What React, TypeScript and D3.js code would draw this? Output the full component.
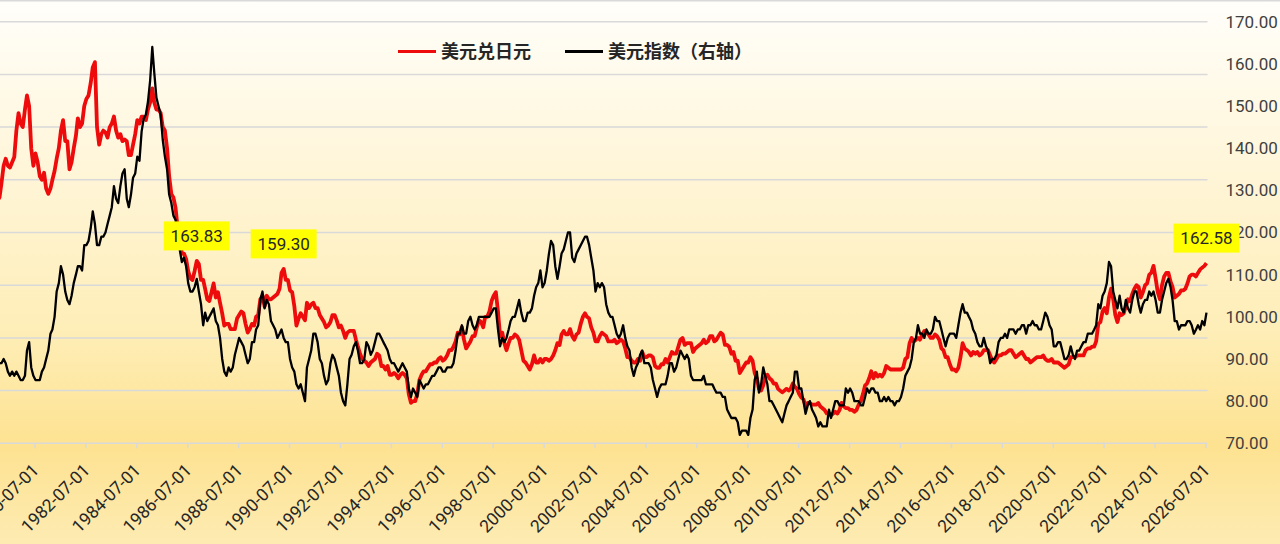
import React, { useEffect, useRef } from 'react';
import * as d3 from 'd3';

// monthly values starting Jan 1979
const START_YEAR = 1979;

// 美元兑日元 (left axis, hidden)
const usdJpy: number[] = [
    198, 200, 208, 218, 222, 218, 217, 220, 223, 238, 248, 242, // 1979
    240, 250, 258, 252, 228, 218, 225, 220, 212, 210, 214, 205, // 1980
    202, 205, 210, 215, 222, 228, 238, 244, 232, 232, 216, 220, // 1981
    228, 235, 245, 240, 242, 252, 256, 258, 265, 274, 277, 240, // 1982
    230, 236, 238, 237, 234, 240, 242, 246, 238, 234, 236, 232, // 1983
    233, 232, 224, 224, 230, 236, 244, 242, 246, 246, 244, 250, // 1984
    254, 262, 254, 250, 250, 248, 240, 238, 228, 212, 202, 200, // 1985
    194, 182, 178, 168, 168, 165, 158, 154, 153, 158, 163.83, 162, // 1986
    153, 153, 148, 142, 141, 146, 151, 143, 146, 140, 134, 127, // 1987
    128, 128, 125, 125, 125, 131, 133, 135, 134, 128, 123, 125, // 1988
    128, 127, 132, 133, 142, 144, 138, 144, 142, 142, 143, 144, // 1989
    145, 148, 157, 159.3, 153, 153, 147, 146, 138, 127, 131, 134, // 1990
    132, 130, 140, 137, 139, 140, 137, 137, 133, 131, 129, 126, // 1991
    127, 129, 133, 133, 130, 126, 127, 124, 120, 123, 124, 124, // 1992
    124, 119, 115, 111, 108, 107, 106, 104, 106, 107, 108, 111, // 1993
    110, 104, 104, 102, 104, 99, 99, 100, 99, 97, 99, 100, // 1994
    99, 97, 88, 83, 84, 84, 88, 96, 99, 101, 101, 103, // 1995
    105, 105, 106, 106, 108, 109, 107, 108, 110, 113, 113, 115, // 1996
    118, 123, 122, 126, 119, 114, 116, 118, 121, 121, 126, 130, // 1997
    129, 126, 132, 132, 135, 141, 144, 146, 135, 121, 123, 117, // 1998
    113, 117, 120, 120, 122, 121, 119, 113, 107, 106, 104, 102, // 1999
    105, 110, 106, 106, 108, 106, 108, 108, 107, 108, 110, 113, // 2000
    117, 116, 122, 124, 122, 122, 125, 121, 119, 122, 123, 128, // 2001
    132, 134, 132, 131, 126, 123, 118, 118, 121, 123, 122, 121, // 2002
    118, 118, 118, 119, 117, 118, 119, 118, 114, 109, 109, 107, // 2003
    106, 106, 108, 107, 112, 109, 109, 110, 110, 109, 104, 103, // 2004
    103, 105, 105, 108, 106, 109, 112, 111, 111, 115, 119, 120, // 2005
    116, 117, 117, 117, 112, 114, 115, 116, 117, 119, 117, 118, // 2006
    121, 121, 118, 119, 121, 123, 122, 116, 116, 115, 111, 112, // 2007
    107, 107, 100, 102, 104, 106, 106, 109, 107, 100, 97, 91, // 2008
    90, 93, 98, 99, 97, 96, 94, 94, 91, 90, 89, 90, // 2009
    91, 90, 91, 94, 92, 91, 88, 86, 85, 81, 83, 83, // 2010
    82, 82, 82, 83, 81, 80, 79, 77, 77, 76, 77, 78, // 2011
    77, 79, 83, 81, 80, 80, 79, 79, 78, 79, 82, 84, // 2012
    88, 93, 94, 97, 101, 97, 100, 98, 99, 98, 100, 104, // 2013
    103, 102, 102, 102, 102, 102, 102, 103, 108, 109, 117, 120, // 2014
    118, 119, 120, 119, 122, 124, 123, 122, 120, 120, 122, 121, // 2015
    119, 114, 113, 109, 109, 105, 102, 102, 101, 103, 109, 117, // 2016
    114, 113, 112, 110, 112, 111, 112, 110, 111, 113, 113, 113, // 2017
    110, 107, 106, 108, 110, 110, 111, 111, 112, 113, 113, 111, // 2018
    109, 110, 111, 112, 110, 108, 108, 106, 107, 108, 109, 109, // 2019
    109, 110, 108, 107, 107, 108, 106, 106, 106, 105, 104, 103, // 2020
    104, 105, 109, 109, 109, 110, 110, 110, 110, 113, 114, 114, // 2021
    115, 115, 118, 128, 129, 135, 137, 134, 143, 148, 142, 133, // 2022
    129, 134, 133, 134, 138, 142, 141, 145, 148, 150, 149, 143, // 2023
    146, 150, 151, 156, 157, 161, 154, 146, 142, 150, 155, 157, // 2024
    157, 152, 149, 143, 144, 145, 147, 147, 148, 151, 155, 156, // 2025
    156, 155, 157, 159, 160, 161, 162.58, // 2026
];

// 美元指数 (right axis)
const dxy: number[] = [
    88, 89, 89, 90, 89, 87, 86, 87, 86, 87, 86, 85, // 1979
    85, 86, 92, 94, 88, 86, 85, 85, 85, 87, 88, 90, // 1980
    92, 96, 97, 100, 106, 108, 112, 110, 106, 104, 103, 105, // 1981
    108, 110, 112, 112, 111, 117, 117, 118, 121, 125, 122, 117, // 1982
    117, 119, 119, 120, 122, 124, 126, 131, 128, 127, 131, 134, // 1983
    135, 128, 126, 129, 133, 134, 138, 137, 144, 147, 148, 151, // 1984
    156, 164, 158, 152, 150, 148, 142, 138, 135, 129, 127, 124, // 1985
    123, 118, 116, 113, 114, 112, 108, 106, 106, 107, 109, 106, // 1986
    103, 98, 101, 99, 100, 101, 102, 99, 98, 95, 90, 87, // 1987
    86, 88, 87, 88, 91, 93, 95, 94, 93, 91, 89, 90, // 1988
    94, 94, 97, 98, 104, 106, 102, 104, 103, 99, 98, 97, // 1989
    95, 96, 97, 95, 94, 94, 90, 88, 87, 84, 83, 84, // 1990
    82, 80, 88, 90, 92, 96, 96, 94, 90, 89, 86, 84, // 1991
    85, 89, 91, 90, 88, 86, 82, 80, 79, 84, 90, 91, // 1992
    93, 94, 92, 89, 89, 90, 94, 93, 91, 92, 94, 96, // 1993
    96, 95, 94, 93, 92, 90, 89, 89, 88, 87, 88, 89, // 1994
    88, 87, 83, 81, 83, 82, 81, 85, 84, 83, 84, 84, // 1995
    85, 86, 86, 87, 88, 88, 87, 87, 88, 88, 88, 89, // 1996
    92, 96, 96, 98, 96, 96, 99, 100, 98, 97, 98, 100, // 1997
    100, 100, 100, 100, 100, 101, 102, 102, 97, 93, 95, 94, // 1998
    95, 97, 99, 100, 100, 102, 104, 101, 99, 99, 101, 101, // 1999
    102, 105, 107, 108, 111, 107, 108, 111, 115, 118, 117, 112, // 2000
    109, 112, 115, 116, 118, 120, 120, 114, 113, 115, 116, 117, // 2001
    118, 119, 119, 117, 114, 111, 106, 108, 107, 108, 107, 103, // 2002
    101, 100, 100, 98, 96, 95, 96, 98, 95, 93, 92, 88, // 2003
    86, 88, 89, 91, 92, 89, 89, 89, 88, 85, 83, 81, // 2004
    83, 84, 84, 84, 86, 89, 89, 87, 88, 90, 92, 91, // 2005
    90, 91, 90, 86, 85, 85, 85, 85, 85, 86, 84, 84, // 2006
    84, 84, 83, 82, 82, 82, 81, 81, 78, 77, 76, 76, // 2007
    76, 75, 72, 73, 73, 73, 72, 76, 78, 85, 87, 82, // 2008
    84, 88, 86, 84, 80, 80, 79, 78, 77, 76, 75, 77, // 2009
    79, 80, 81, 82, 87, 87, 83, 83, 80, 77, 79, 80, // 2010
    78, 77, 76, 74, 75, 74, 74, 74, 78, 76, 78, 80, // 2011
    80, 79, 79, 79, 83, 82, 83, 82, 80, 80, 80, 79, // 2012
    79, 81, 83, 82, 83, 83, 82, 82, 80, 80, 81, 80, // 2013
    81, 80, 80, 79, 80, 80, 81, 83, 86, 87, 88, 90, // 2014
    94, 95, 98, 96, 96, 95, 97, 96, 96, 97, 100, 99, // 2015
    99, 97, 95, 93, 95, 96, 96, 96, 95, 98, 101, 103, // 2016
    101, 101, 100, 99, 97, 96, 94, 93, 93, 95, 93, 92, // 2017
    89, 90, 90, 91, 94, 95, 95, 96, 95, 97, 97, 97, // 2018
    96, 97, 97, 98, 98, 96, 98, 98, 99, 98, 98, 97, // 2019
    97, 99, 101, 100, 98, 97, 93, 93, 94, 94, 92, 90, // 2020
    90, 91, 93, 91, 90, 92, 92, 93, 94, 94, 96, 96, // 2021
    96, 97, 98, 103, 102, 105, 106, 108, 113, 112, 106, 104, // 2022
    102, 105, 102, 101, 104, 102, 101, 104, 106, 106, 103, 101, // 2023
    103, 104, 104, 106, 105, 106, 104, 101, 101, 104, 106, 108, // 2024
    109, 107, 104, 99, 99, 97, 98, 98, 98, 99, 99, 98, // 2025
    96, 97, 98, 97, 99, 98, 101, // 2026
];

const seriesNames = ['美元兑日元', '美元指数（右轴）'];
const seriesColors = ['#ee0b0b', '#000000'];

const leftTicks = [60, 90, 120, 150, 180, 210, 240, 270, 300];
const rightTicks = [70, 80, 90, 100, 110, 120, 130, 140, 150, 160, 170];
const xTickLabels = [
    '1978-07-01', '1980-07-01', '1982-07-01', '1984-07-01', '1986-07-01', '1988-07-01',
    '1990-07-01', '1992-07-01', '1994-07-01', '1996-07-01', '1998-07-01', '2000-07-01',
    '2002-07-01', '2004-07-01', '2006-07-01', '2008-07-01', '2010-07-01', '2012-07-01',
    '2014-07-01', '2016-07-01', '2018-07-01', '2020-07-01', '2022-07-01', '2024-07-01',
    '2026-07-01',
];
// months of usdJpy that carry a yellow value label
const calloutMonths = ['1986-11', '1990-04', '2026-07'];

const monthDate = (i: number) => new Date(START_YEAR + Math.floor(i / 12), i % 12, 15);
const parseDay = d3.timeParse('%Y-%m-%d');

const App: React.FC = () => {
    const svgRef = useRef<SVGSVGElement>(null);
    const width = 1280;
    const height = 544;

    useEffect(() => {
        const svg = d3.select(svgRef.current);
        svg.selectAll('*').remove();

        const plotRight = 1207.5;
        const plotBottom = 443.3;
        const plotTop = 21.7;

        const x = d3.scaleTime()
            .domain([new Date(1980, 6, 1), new Date(2026, 6, 1)])
            .range([34.5, 1205.5]);
        const yL = d3.scaleLinear().domain([60, 300]).range([plotBottom, plotTop]);
        const yR = d3.scaleLinear().domain([70, 170]).range([plotBottom, plotTop]);
        const plotLeft = x(new Date(1978, 6, 1));

        // background
        const defs = svg.append('defs');
        const grad = defs.append('linearGradient')
            .attr('id', 'bg')
            .attr('x1', 0).attr('y1', 0).attr('x2', 0).attr('y2', 1);
        [['0%', '#fffefa'], ['30%', '#fff6da'], ['60%', '#feeeb8'], ['82%', '#fde291'], ['100%', '#fdebb2']]
            .forEach(([o, c]) => grad.append('stop').attr('offset', o).attr('stop-color', c));
        svg.append('rect').attr('width', width).attr('height', height).attr('fill', 'url(#bg)');
        svg.append('line')
            .attr('x1', 0).attr('x2', width).attr('y1', 0.75).attr('y2', 0.75)
            .attr('stroke', '#d9d9d9').attr('stroke-width', 1.5);

        // gridlines (left axis)
        svg.append('g')
            .selectAll('line')
            .data(leftTicks)
            .enter()
            .append('line')
            .attr('x1', plotLeft).attr('x2', plotRight)
            .attr('y1', d => yL(d)).attr('y2', d => yL(d))
            .attr('stroke', '#d9d9d9')
            .attr('stroke-width', 1.5);

        // X axis
        const xAxis = svg.append('g')
            .attr('transform', `translate(0,${plotBottom})`)
            .call(d3.axisBottom(x)
                .tickValues(xTickLabels.map(s => parseDay(s) as Date))
                .tickFormat(d3.timeFormat('%Y-%m-%d') as any)
                .tickSize(5)
                .tickSizeOuter(0));
        xAxis.select('.domain').remove();
        xAxis.selectAll('.tick line').attr('stroke', '#d9d9d9').attr('stroke-width', 1.5);
        xAxis.selectAll('.tick text')
            .attr('x', 0).attr('y', 0).attr('dy', 0)
            .attr('transform', 'translate(5,28) rotate(-45)')
            .style('text-anchor', 'end')
            .style('font-family', 'Roboto, sans-serif')
            .style('font-size', '17.5px')
            .style('fill', '#262626');

        // right Y axis
        const rAxis = svg.append('g')
            .attr('transform', `translate(${plotRight},0)`)
            .call(d3.axisRight(yR)
                .tickValues(rightTicks)
                .tickFormat(d => (d as number).toFixed(2))
                .tickSize(0)
                .tickPadding(18));
        rAxis.select('.domain').remove();
        rAxis.selectAll('.tick text')
            .style('font-family', 'Roboto, sans-serif')
            .style('font-size', '17px')
            .style('fill', '#404040');

        // lines
        const redLine = d3.line<number>()
            .x((_, i) => x(monthDate(i)))
            .y(d => yL(d));
        const blackLine = d3.line<number>()
            .x((_, i) => x(monthDate(i)))
            .y(d => yR(d));

        svg.append('path')
            .datum(usdJpy)
            .attr('fill', 'none')
            .attr('stroke', seriesColors[0])
            .attr('stroke-width', 3.8)
            .attr('stroke-linejoin', 'round')
            .attr('d', redLine);

        svg.append('path')
            .datum(dxy)
            .attr('fill', 'none')
            .attr('stroke', seriesColors[1])
            .attr('stroke-width', 2.3)
            .attr('stroke-linejoin', 'round')
            .attr('d', blackLine);

        // value labels
        calloutMonths.forEach(m => {
            const [yy, mm] = m.split('-').map(Number);
            const i = (yy - START_YEAR) * 12 + (mm - 1);
            const v = usdJpy[i];
            const cx = x(monthDate(i));
            const cy = yL(v) - 25;
            svg.append('rect')
                .attr('x', cx - 33).attr('y', cy - 14.5)
                .attr('width', 66).attr('height', 29)
                .attr('fill', '#ffff00');
            svg.append('text')
                .attr('x', cx).attr('y', cy)
                .attr('dy', '0.36em')
                .attr('text-anchor', 'middle')
                .style('font-family', 'Roboto, sans-serif')
                .style('font-size', '17px')
                .style('fill', '#262626')
                .text(v.toFixed(2));
        });

        // legend
        const legend = svg.append('g');
        const legendX = [398, 565];
        seriesNames.forEach((name, k) => {
            legend.append('line')
                .attr('x1', legendX[k]).attr('x2', legendX[k] + 38)
                .attr('y1', 51.5).attr('y2', 51.5)
                .attr('stroke', seriesColors[k])
                .attr('stroke-width', 3);
            legend.append('text')
                .attr('x', legendX[k] + 43).attr('y', 51.5)
                .attr('dy', '0.36em')
                .style('font-family', '"Noto Sans CJK SC", sans-serif')
                .style('font-weight', 'bold')
                .style('font-size', '18px')
                .style('fill', '#262626')
                .text(name);
        });
    }, []);

    return (
        <svg
            ref={svgRef}
            width={width}
            height={height}
            style={{ position: 'absolute', left: 0, top: 0, display: 'block' }}
        ></svg>
    );
};

export default App;
